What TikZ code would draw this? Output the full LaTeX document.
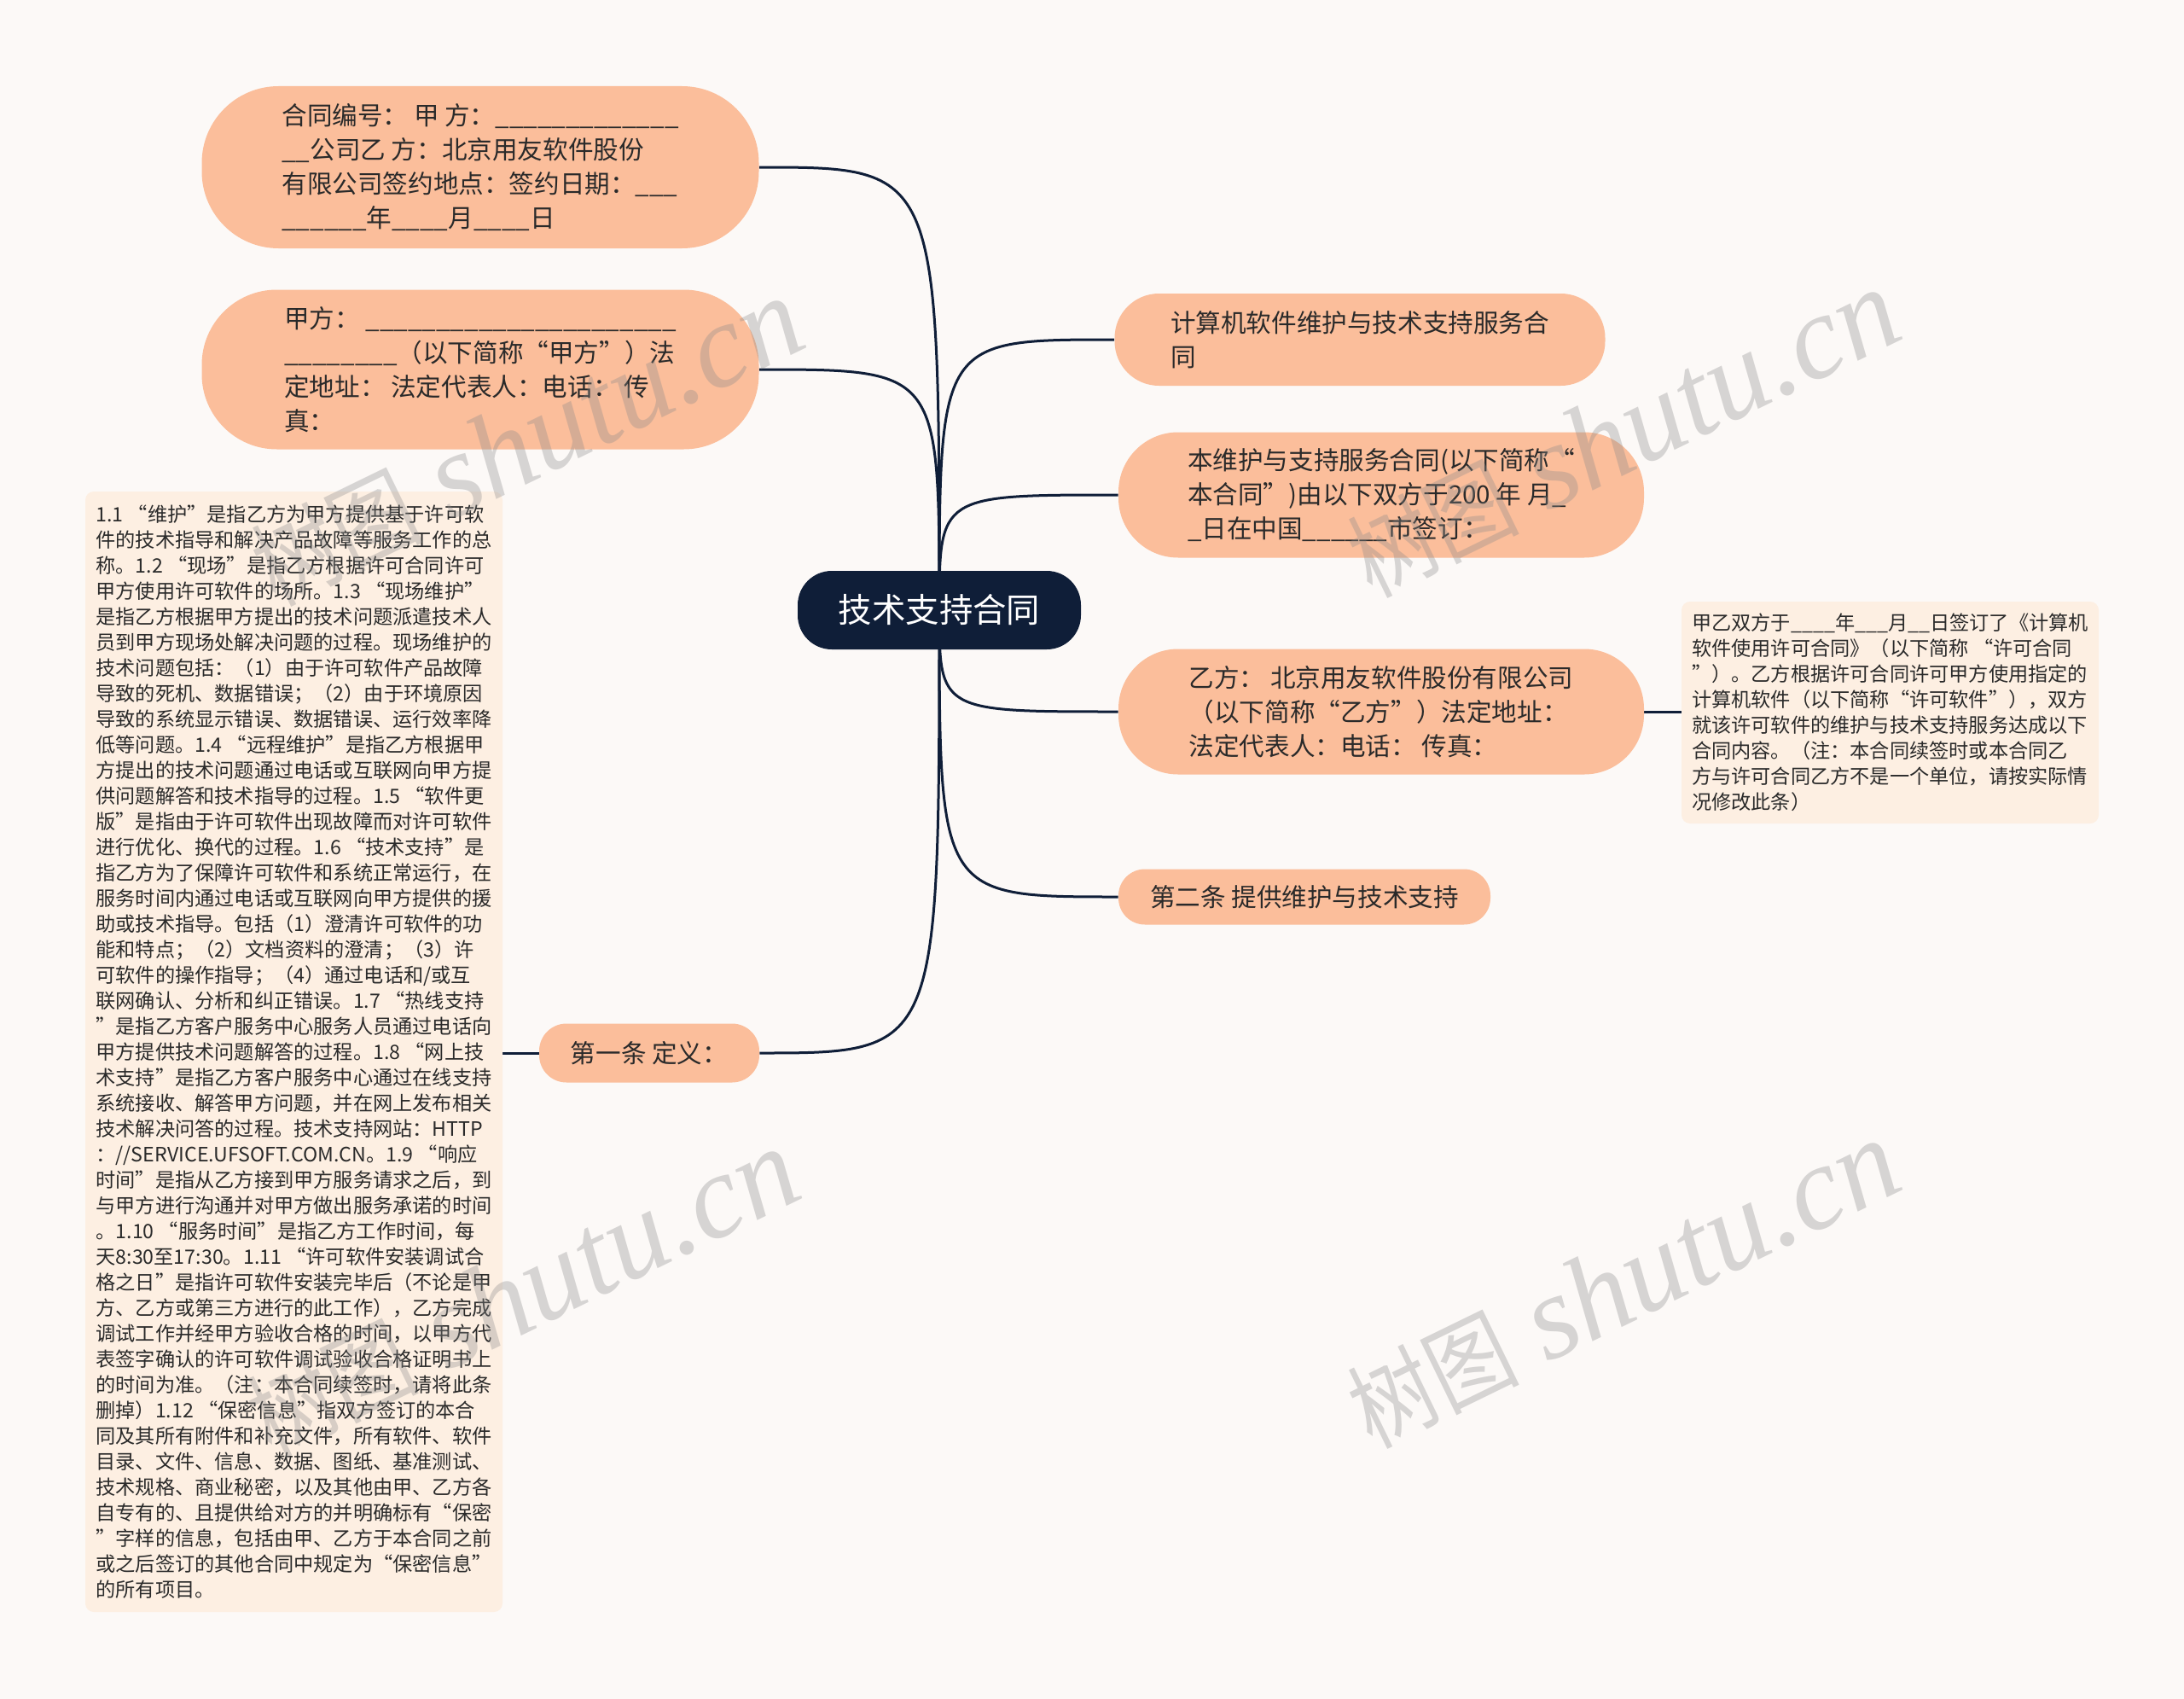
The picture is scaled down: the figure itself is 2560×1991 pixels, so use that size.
\documentclass[tikz,border=0pt]{standalone}
\usepackage{graphicx}
\usepackage{fontspec}
\setmainfont{Noto Sans CJK SC}
\newfontfamily\wmlatin{Liberation Serif}
\definecolor{bgc}{HTML}{FCF9F7}
\definecolor{peach}{HTML}{FBBE9B}
\definecolor{boxc}{HTML}{FDEFE2}
\definecolor{navy}{HTML}{0F1E38}
\definecolor{txt}{HTML}{2A2A2A}
\definecolor{wmc}{HTML}{8A8A8A}
\pgfdeclarelayer{bgl}
\pgfdeclarelayer{edgel}
\pgfdeclarelayer{wml}
\pgfsetlayers{bgl,edgel,main,wml}
\newcommand\wmtext{\scalebox{0.7}[0.8]{树图} {\wmlatin\itshape shutu.cn}}
\tikzset{
  pill/.style={fill=peach, inner sep=0pt, align=left, text=txt, font=\fontsize{14.8pt}{20pt}\selectfont},
  root/.style={fill=navy, inner sep=0pt, text=white, rounded corners=20pt, minimum width=166pt, minimum height=46pt, font=\fontsize{19.7pt}{24pt}\selectfont},
  textbox/.style={fill=boxc, inner sep=0pt, rounded corners=5pt, align=left, text=txt, font=\fontsize{11.6pt}{15pt}\selectfont},
  link/.style={draw=navy, line width=1.5pt},
  wm/.style={text=wmc, opacity=0.33, font=\fontsize{70pt}{74pt}\selectfont, inner sep=0pt, rotate=26}
}
\begin{document}
\begin{tikzpicture}[x=0.5pt,y=-0.5pt]
\begin{pgfonlayer}{bgl}
\fill[bgc] (0,0) rectangle (2560,1991);
\end{pgfonlayer}
\useasboundingbox (0,0) rectangle (2560,1991);

\node[root] (c) at (1101,715) {技术支持合同};

\node[pill, minimum width=326.5pt, minimum height=95pt, rounded corners=45pt] (n1) at (563,196)
{合同编号：\ 甲 方：\_\_\_\_\_\_\_\_\_\_\_\_\_\\
\_\_公司乙 方：北京用友软件股份\\
有限公司签约地点：签约日期：\_\_\_\\
\_\_\_\_\_\_年\_\_\_\_月\_\_\_\_日};

\node[pill, minimum width=326.5pt, minimum height=93.5pt, rounded corners=44pt] (n2) at (563,433)
{甲方：\ \_\_\_\_\_\_\_\_\_\_\_\_\_\_\_\_\_\_\_\_\_\_\\
\_\_\_\_\_\_\_\_（以下简称“甲方”）法\\
定地址：\ 法定代表人：电话：\ 传\\
真：};

\node[textbox, minimum width=244.5pt, minimum height=656.5pt] (def) at (344.5,1232.5)
{1.1 “维护”是指乙方为甲方提供基于许可软\\
件的技术指导和解决产品故障等服务工作的总\\
称。1.2 “现场”是指乙方根据许可合同许可\\
甲方使用许可软件的场所。1.3 “现场维护”\\
是指乙方根据甲方提出的技术问题派遣技术人\\
员到甲方现场处解决问题的过程。现场维护的\\
技术问题包括：（1）由于许可软件产品故障\\
导致的死机、数据错误；（2）由于环境原因\\
导致的系统显示错误、数据错误、运行效率降\\
低等问题。1.4 “远程维护”是指乙方根据甲\\
方提出的技术问题通过电话或互联网向甲方提\\
供问题解答和技术指导的过程。1.5 “软件更\\
版”是指由于许可软件出现故障而对许可软件\\
进行优化、换代的过程。1.6 “技术支持”是\\
指乙方为了保障许可软件和系统正常运行，在\\
服务时间内通过电话或互联网向甲方提供的援\\
助或技术指导。包括（1）澄清许可软件的功\\
能和特点；（2）文档资料的澄清；（3）许\\
可软件的操作指导；（4）通过电话和/或互\\
联网确认、分析和纠正错误。1.7 “热线支持\\
”是指乙方客户服务中心服务人员通过电话向\\
甲方提供技术问题解答的过程。1.8 “网上技\\
术支持”是指乙方客户服务中心通过在线支持\\
系统接收、解答甲方问题，并在网上发布相关\\
技术解决问答的过程。技术支持网站：HTTP\\
：//SERVICE.UFSOFT.COM.CN。1.9 “响应\\
时间”是指从乙方接到甲方服务请求之后，到\\
与甲方进行沟通并对甲方做出服务承诺的时间\\
。1.10 “服务时间”是指乙方工作时间，每\\
天8:30至17:30。1.11 “许可软件安装调试合\\
格之日”是指许可软件安装完毕后（不论是甲\\
方、乙方或第三方进行的此工作），乙方完成\\
调试工作并经甲方验收合格的时间，以甲方代\\
表签字确认的许可软件调试验收合格证明书上\\
的时间为准。（注：本合同续签时，请将此条\\
删掉）1.12 “保密信息”指双方签订的本合\\
同及其所有附件和补充文件，所有软件、软件\\
目录、文件、信息、数据、图纸、基准测试、\\
技术规格、商业秘密，以及其他由甲、乙方各\\
自专有的、且提供给对方的并明确标有“保密\\
”字样的信息，包括由甲、乙方于本合同之前\\
或之后签订的其他合同中规定为“保密信息”\\
的所有项目。};

\node[pill, minimum width=129pt, minimum height=34.5pt, rounded corners=16pt] (n9) at (761,1234) {第一条 定义：};

\node[pill, minimum width=287.5pt, minimum height=54pt, rounded corners=26pt] (n5) at (1594,398)
{计算机软件维护与技术支持服务合\\同};

\node[pill, minimum width=308pt, minimum height=73.5pt, rounded corners=35pt] (n6) at (1619,580)
{本维护与支持服务合同(以下简称“\\
本合同”)由以下双方于200 年 月\_\\
\_日在中国\_\_\_\_\_\_市签订：};

\node[pill, minimum width=308pt, minimum height=73.5pt, rounded corners=35pt] (n7) at (1619,834)
{乙方：\ 北京用友软件股份有限公司\\
（以下简称“乙方”）法定地址：\\
法定代表人：电话：\ 传真：};

\node[pill, minimum width=218pt, minimum height=32.5pt, rounded corners=15.5pt] (n8) at (1529,1051) {第二条 提供维护与技术支持};

\node[textbox, minimum width=244.5pt, minimum height=130pt] (note) at (2215.5,835)
{甲乙双方于\_\_\_\_年\_\_\_月\_\_日签订了《计算机\\
软件使用许可合同》（以下简称 “许可合同\\
”）。乙方根据许可合同许可甲方使用指定的\\
计算机软件（以下简称“许可软件”），双方\\
就该许可软件的维护与技术支持服务达成以下\\
合同内容。（注：本合同续签时或本合同乙\\
方与许可合同乙方不是一个单位，请按实际情\\
况修改此条）};

\begin{pgfonlayer}{edgel}
\draw[link] (c.center) .. controls (c.center |- n1.east) .. (n1.east);
\draw[link] (c.center) .. controls (c.center |- n2.east) .. (n2.east);
\draw[link] (c.center) .. controls (c.center |- n9.east) .. (n9.east);
\draw[link] (c.center) .. controls (c.center |- n5.west) .. (n5.west);
\draw[link] (c.center) .. controls (c.center |- n6.west) .. (n6.west);
\draw[link] (c.center) .. controls (c.center |- n7.west) .. (n7.west);
\draw[link] (c.center) .. controls (c.center |- n8.west) .. (n8.west);
\draw[link] (def.east |- n9.west) -- (n9.west);
\draw[link] (n7.east) -- (note.west |- n7.east);
\end{pgfonlayer}

\begin{pgfonlayer}{wml}
\node[wm] (w1) at (618,518) {\wmtext};
\node[wm] (w2) at (1903,508) {\wmtext};
\node[wm] (w3) at (613,1515) {\wmtext};
\node[wm] (w4) at (1903,1505) {\wmtext};
\end{pgfonlayer}
\end{tikzpicture}
\end{document}
